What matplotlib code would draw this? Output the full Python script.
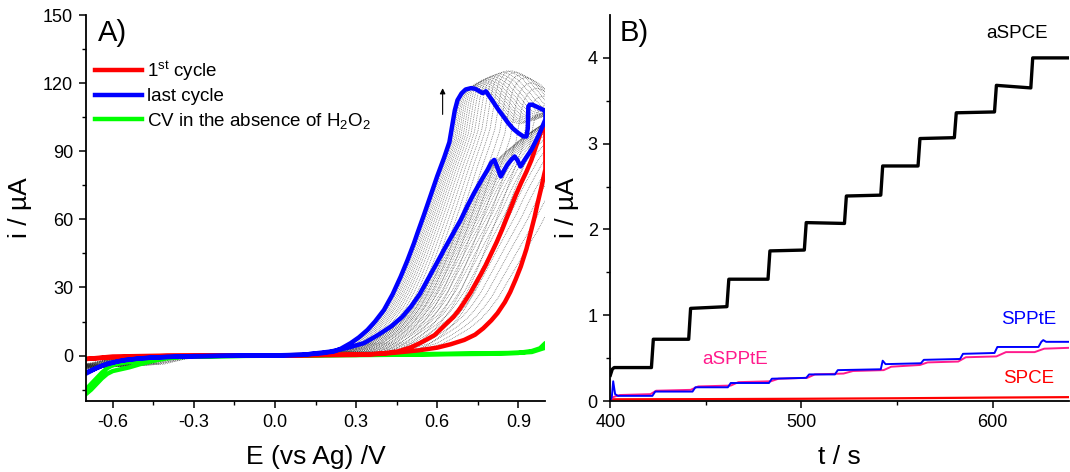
import matplotlib.pyplot as plt
import numpy as np

# ---------------- style ----------------
plt.rcParams['font.family'] = ['Liberation Sans', 'DejaVu Sans']
plt.rcParams['mathtext.fontset'] = 'custom'
plt.rcParams['mathtext.rm'] = 'Liberation Sans'
plt.rcParams['mathtext.it'] = 'Liberation Sans:italic'
plt.rcParams['axes.linewidth'] = 1.3
plt.rcParams['lines.solid_joinstyle'] = 'round'

# ---------------- data: panel A (CV) ----------------
# last cycle (blue), closed loop: forward then reverse scan
blue_E = [-0.70, -0.66, -0.62, -0.55, -0.45, -0.30, 0.00, 0.10, 0.207, 0.27, 0.329, 0.38, 0.429,
          0.47, 0.503, 0.535, 0.564, 0.595, 0.625, 0.655, 0.687, 0.712, 0.736, 0.762, 0.786, 0.80,
          0.811, 0.822, 0.835, 0.847, 0.859, 0.872, 0.886, 0.897, 0.908, 0.925, 0.948, 0.975, 1.00,
          1.00, 0.992, 0.97, 0.952, 0.942, 0.937, 0.935, 0.93, 0.919, 0.90, 0.88, 0.862, 0.845,
          0.825, 0.80, 0.78, 0.768, 0.755, 0.74, 0.725, 0.705, 0.69, 0.675, 0.665, 0.655, 0.645,
          0.625, 0.60, 0.577, 0.551, 0.527, 0.514, 0.49, 0.465, 0.435, 0.403, 0.37, 0.342, 0.31,
          0.28, 0.243, 0.218, 0.17, 0.10, 0.00, -0.20, -0.40, -0.50, -0.58, -0.64, -0.70]
blue_I = [-8.0, -5.5, -3.5, -1.8, -0.8, -0.2, 0.0, 0.3, 1.8, 3.5, 5.5, 9, 12.8,
          17, 21.6, 27, 33.3, 40, 46.6, 53, 59.8, 66, 71.5, 77, 81.8, 85,
          86.2, 83, 78.9, 81.5, 84, 86, 87.7, 86, 83.3, 86.5, 90.6, 97, 104,
          108, 108.2, 109.5, 110.5, 110.5, 109.7, 100, 96.5, 96.5, 98, 100, 102.5, 105.3,
          108.5, 113, 116.4, 115.6, 116.5, 117.5, 117.8, 117.2, 115.5, 112.5, 108, 101, 94,
          87, 79, 71, 62, 54, 49.5, 42, 34.8, 27, 20.1, 15, 11.3, 8,
          5.5, 3.0, 1.8, 1.0, 0.4, 0.1, -0.1, -0.6, -1.2, -2.5, -4.5, -7.5]

# 1st cycle (red)
red_E = [-0.70, -0.60, -0.40, 0.00, 0.30, 0.40, 0.454, 0.53, 0.60, 0.65, 0.70, 0.74, 0.77, 0.80,
         0.823, 0.85, 0.87, 0.89, 0.909, 0.93, 0.945, 0.96, 0.971, 0.985, 0.996, 1.00,
         1.00, 0.985, 0.965, 0.948, 0.93, 0.91, 0.89, 0.874, 0.855, 0.84, 0.82, 0.80, 0.78, 0.76,
         0.74, 0.722, 0.70, 0.68, 0.66, 0.636, 0.61, 0.59, 0.56, 0.536, 0.50, 0.453, 0.40, 0.35,
         0.00, -0.40, -0.60, -0.70]
red_I = [-1.5, -0.4, 0.0, 0.0, 0.3, 0.8, 1.4, 2.3, 3.5, 5.0, 6.9, 9.2, 12, 15.5,
         18.7, 23.5, 28, 33.5, 39.2, 47, 54, 61, 67, 74, 80, 82,
         103, 99, 92, 86, 81, 76, 70.5, 65.6, 60, 55.5, 50, 45, 40, 35.5,
         31.3, 27.5, 23.5, 20, 17, 14.3, 11.3, 9, 7, 5.5, 3.5, 1.8, 1.0, 0.6,
         0.1, -0.2, -0.8, -1.5]

# CV without H2O2 (green)
green_E = [-0.70, -0.68, -0.66, -0.64, -0.62, -0.60, -0.57, -0.54, -0.50, -0.45, -0.40, -0.35,
           -0.20, 0.30, 0.80, 0.90, 0.95, 0.98, 1.00,
           1.00, 0.95, 0.90, 0.50, 0.00, -0.30, -0.40, -0.45, -0.50, -0.55, -0.58, -0.60, -0.62,
           -0.64, -0.66, -0.68, -0.70]
green_I = [-17, -15, -12.5, -10, -8, -6.8, -6.0, -5.2, -3.8, -2.3, -1.2, -0.6,
           -0.2, 0.2, 0.8, 1.2, 2.0, 3.2, 5.5,
           3.5, 1.6, 1.2, 0.6, 0.1, -0.4, -0.8, -1.5, -2.3, -3.0, -3.6, -4.2, -5.5,
           -7.5, -10, -12.5, -15]

# intermediate cycles (grey dotted): one cycle shape, plus per-cycle potential shift and height factor
cyc_E = [-1.00, -0.70, -0.62, -0.45, -0.20, 0.10, 0.207, 0.27, 0.329, 0.38, 0.429, 0.47, 0.503,
         0.535, 0.564, 0.595, 0.625, 0.655, 0.687, 0.712, 0.736, 0.762, 0.786, 0.81, 0.84, 0.87,
         0.90, 0.93, 0.96, 1.02,
         1.02, 0.99, 0.96, 0.93, 0.90, 0.87, 0.845, 0.82, 0.80, 0.78, 0.76, 0.74, 0.725, 0.705,
         0.69, 0.675, 0.665, 0.655, 0.645, 0.625, 0.60, 0.577, 0.551, 0.527, 0.49, 0.465, 0.435,
         0.403, 0.37, 0.342, 0.31, 0.28, 0.243, 0.218, 0.17, 0.10, 0.00, -0.20, -0.45, -0.62,
         -0.70, -1.00]
cyc_I = [-6.0, -4.0, -1.5, -0.3, 0.0, 0.3, 1.8, 3.5, 5.5, 9, 12.8, 17, 21.6,
         27, 33.3, 40, 46.6, 53, 59.8, 66, 71.5, 77, 81.8, 85.5, 89, 92,
         95, 97.5, 100, 104,
         107, 105.5, 104, 103, 102, 103, 106, 109.5, 112, 114.5, 116, 117.2, 117.8, 117.2,
         115.5, 112.5, 108, 101, 94, 87, 79, 71, 62, 54, 42, 34.8, 27,
         20.1, 15, 11.3, 8, 5.5, 3.0, 1.8, 1.0, 0.4, 0.1, 0.0, -0.3, -1.5,
         -3.5, -5.5]
cyc_shift = [0.006, 0.012, 0.019, 0.026, 0.034, 0.042, 0.051, 0.06, 0.07, 0.081, 0.093, 0.106,
             0.12, 0.135, 0.151, 0.168, 0.186, 0.205, 0.225, 0.246, 0.268, 0.29]
cyc_scale = [1.0, 1.005, 1.01, 1.015, 1.02, 1.025, 1.03, 1.035, 1.04, 1.045, 1.05, 1.055,
             1.06, 1.065, 1.065, 1.06, 1.05, 1.04, 1.02, 1.0, 0.97, 0.94]

# ---------------- data: panel B (amperometry) ----------------
aspce_t = [400, 401, 402, 421.5, 422.5, 441, 442, 461, 462, 482.5, 483.5, 501.5, 502.5, 522.5,
           523.5, 541.5, 542.5, 561, 562, 580, 581, 601, 602, 620, 621, 640]
aspce_i = [0.30, 0.37, 0.39, 0.39, 0.72, 0.72, 1.08, 1.10, 1.42, 1.42, 1.75, 1.76, 2.08, 2.07,
           2.39, 2.40, 2.74, 2.74, 3.06, 3.07, 3.36, 3.37, 3.68, 3.65, 4.00, 4.00]

spte_t = [400, 400.8, 401.5, 402.5, 404, 422, 423.5, 443, 444.5, 461.5, 463, 483, 484.5, 502.5,
          504, 517.5, 519, 541.5, 542.5, 544, 562.5, 564, 583, 584.5, 601, 602.5, 624, 625.5,
          626.5, 628, 640]
spte_i = [0.00, 0.05, 0.23, 0.08, 0.06, 0.06, 0.11, 0.11, 0.16, 0.16, 0.21, 0.21, 0.26, 0.27,
          0.31, 0.31, 0.36, 0.37, 0.47, 0.43, 0.44, 0.48, 0.49, 0.55, 0.56, 0.63, 0.63, 0.69,
          0.71, 0.69, 0.69]

aspte_t = [400, 402, 405, 421, 424, 442, 446, 463, 467, 484, 488, 503, 507, 522, 527, 543, 547,
           562, 566, 582, 586, 602, 607, 622, 627, 640]
aspte_i = [0.02, 0.05, 0.07, 0.08, 0.12, 0.13, 0.17, 0.18, 0.22, 0.23, 0.26, 0.27, 0.31, 0.32,
           0.35, 0.36, 0.40, 0.42, 0.45, 0.46, 0.51, 0.52, 0.57, 0.57, 0.61, 0.62]

spce_t = [400, 450, 500, 550, 600, 640]
spce_i = [0.02, 0.022, 0.026, 0.032, 0.04, 0.045]

# ---------------- figure ----------------
fig = plt.figure(figsize=(10.7, 4.72), dpi=100, facecolor='white')
axA = fig.add_axes([0.0801, 0.1504, 0.4296, 0.8178])
axB = fig.add_axes([0.5704, 0.1504, 0.4287, 0.8178])


def style_axes(ax):
    ax.spines['top'].set_visible(False)
    ax.spines['right'].set_visible(False)
    ax.tick_params(which='major', direction='out', length=5, width=1.1, labelsize=13, pad=4)
    ax.tick_params(which='minor', direction='out', length=3, width=1.0)


# --- A ---
for s, k in zip(cyc_shift, cyc_scale):
    axA.plot(np.array(cyc_E) + s, np.array(cyc_I) * k, color='#222222', lw=0.55,
             ls=(0, (1, 1.3)), alpha=0.7)
axA.plot(green_E, green_I, color='#00FF00', lw=3.2, label=r'CV in the absence of H$_{\rm 2}$O$_{\rm 2}$')
axA.plot(red_E, red_I, color='#FF0000', lw=3.2, label=r'1$^{\rm st}$ cycle')
axA.plot(blue_E, blue_I, color='#0000FF', lw=3.2, label='last cycle')

axA.annotate('', xy=(0.62, 119), xytext=(0.62, 105),
             arrowprops=dict(arrowstyle='-|>', color='black', lw=0.8, mutation_scale=8))

h, l = axA.get_legend_handles_labels()
axA.legend([h[1], h[2], h[0]], [l[1], l[2], l[0]], loc='upper left', bbox_to_anchor=(0.02, 0.885),
           frameon=False, fontsize=13.5, handlelength=2.5, handletextpad=0.3,
           labelspacing=0.28, borderaxespad=0, borderpad=0)

axA.set_xlim(-0.7, 1.0)
axA.set_ylim(-20, 150)
axA.set_xticks([-0.6, -0.3, 0.0, 0.3, 0.6, 0.9])
axA.set_xticks([-0.45, -0.15, 0.15, 0.45, 0.75], minor=True)
axA.set_yticks([0, 30, 60, 90, 120, 150])
axA.set_yticks([-15, 15, 45, 75, 105, 135], minor=True)
axA.set_xticklabels(['-0.6', '-0.3', '0.0', '0.3', '0.6', '0.9'])
axA.set_xlabel('E (vs Ag) /V', fontsize=19)
axA.set_ylabel('i / µA', fontsize=19)
axA.xaxis.set_label_coords(0.5, -0.115)
axA.yaxis.set_label_coords(-0.117, 0.5)
axA.text(0.027, 0.953, 'A)', transform=axA.transAxes, fontsize=21, ha='left', va='center')
style_axes(axA)

# --- B ---
axB.plot(spce_t, spce_i, color='#FF0000', lw=1.6)
axB.plot(aspte_t, aspte_i, color='#FF1A8C', lw=1.4)
axB.plot(spte_t, spte_i, color='#0000FF', lw=1.4)
axB.plot(aspce_t, aspce_i, color='black', lw=2.4)

axB.text(612.9, 4.28, 'aSPCE', color='black', fontsize=13.5, ha='center', va='center')
axB.text(618.9, 0.955, 'SPPtE', color='#0000FF', fontsize=13.5, ha='center', va='center')
axB.text(465.4, 0.48, 'aSPPtE', color='#FF1A8C', fontsize=13.5, ha='center', va='center')
axB.text(618.9, 0.26, 'SPCE', color='#FF0000', fontsize=13.5, ha='center', va='center')

axB.set_xlim(400, 640)
axB.set_ylim(0, 4.5)
axB.set_xticks([400, 500, 600])
axB.set_xticks([450, 550], minor=True)
axB.set_yticks([0, 1, 2, 3, 4])
axB.set_yticks([0.5, 1.5, 2.5, 3.5], minor=True)
axB.set_xlabel('t / s', fontsize=19)
axB.set_ylabel('i / µA', fontsize=19)
axB.xaxis.set_label_coords(0.5, -0.115)
axB.yaxis.set_label_coords(-0.068, 0.5)
axB.text(0.02, 0.953, 'B)', transform=axB.transAxes, fontsize=21, ha='left', va='center')
style_axes(axB)

fig.savefig('out.png', dpi=100)
